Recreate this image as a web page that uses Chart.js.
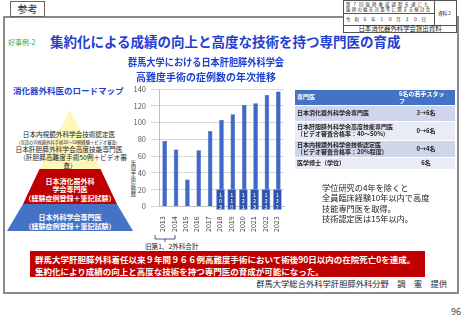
<!DOCTYPE html>
<html>
<head>
<meta charset="utf-8">
<script src="https://cdn.jsdelivr.net/npm/chart.js@4/dist/chart.umd.min.js"></script>
<style>
html, body { margin: 0; padding: 0; background: #fff; }
body { width: 462px; height: 320px; position: relative; overflow: hidden;
       font-family: "Noto Sans CJK JP", "Noto Sans", sans-serif; color: #222; }
.a { position: absolute; white-space: nowrap; line-height: 1; }
.c { text-align: center; transform: translateX(-50%); }
.blue { color: #1f3fd0; font-weight: bold; }
.wt { color: #fff; font-weight: bold; }
#frame { left: 3px; top: 16px; width: 456px; height: 278px; box-sizing: border-box; border: 2px solid #8a8a8a; }
#tab { left: 10px; top: 1px; width: 35px; height: 16px; box-sizing: border-box; border: 1px solid #666;
       background: #fff; font-size: 10px; display: flex; align-items: center; justify-content: center; }
#info { left: 343px; top: 0; width: 114px; height: 33px; box-sizing: border-box; border: 1px solid #555; background: #fff; }
#chartBox { left: 128px; top: 52px; width: 184px; height: 182px; }
table { border-collapse: collapse; font-size: 6px; font-weight: bold; color: #222; }
td { padding: 0 2px; line-height: 6.6px; border-top: 1px solid #fff; vertical-align: middle; }
</style>
</head>
<body>
<div class="a" id="frame"></div>
<div class="a" id="tab">参考</div>

<!-- meeting info box -->
<div class="a" id="info"></div>
<div class="a" style="left:343px;top:25px;width:114px;height:1px;background:#555"></div>
<div class="a" style="left:434px;top:0;width:1px;height:25px;background:#555"></div>
<div class="a" style="left:343px;top:13px;width:91px;height:1px;background:#555"></div>
<div class="a" style="left:346px;top:2px;font-size:4.4px;letter-spacing:2.1px">第７回医師養成過程を通じた</div>
<div class="a" style="left:346px;top:7px;font-size:4.4px;letter-spacing:1.3px">医師の偏在対策等に関する検討会</div>
<div class="a" style="left:346px;top:17px;font-size:4.4px;letter-spacing:4px">令和６年１０月３０日</div>
<div class="a" style="left:438px;top:11px;font-size:4.6px">資料２</div>
<div class="a c" style="left:400px;top:26px;font-size:6.4px">日本消化器外科学会提出資料</div>

<!-- headings -->
<div class="a" style="left:8px;top:39px;font-size:7px;color:#1fae4a">好事例-2</div>
<div class="a blue" style="left:50px;top:35px;font-size:13.5px">集約化による成績の向上と高度な技術を持つ専門医の育成</div>
<div class="a blue" style="left:13px;top:86px;font-size:8.5px">消化器外科医のロードマップ</div>

<!-- roadmap pyramid -->
<svg class="a" style="left:0;top:0" width="462" height="320">
  <polygon points="70,110 39.5,169 100.5,169" fill="#fff8b8"/>
  <polygon points="39.5,169 100.5,169 117,204 23,204" fill="#c00000"/>
  <polygon points="23,204 117,204 133,231 7,231" fill="#4472c4"/>
  <path d="M155 235 V239 H175 V235 M165 239 V242" fill="none" stroke="#1f2f66" stroke-width="0.8"/>
</svg>
<div class="a c" style="left:69px;top:131px;font-size:6.6px">日本内視鏡外科学会技術認定医</div>
<div class="a c" style="left:68px;top:140px;font-size:4.3px">(当該の内視鏡外科手術20～50例経験＋ビデオ審査)</div>
<div class="a c" style="left:69px;top:146px;font-size:6.7px">日本肝胆膵外科学会高度技能専門医</div>
<div class="a c" style="left:73px;top:154px;font-size:6.7px">（肝胆膵高難度手術50例＋ビデオ審</div>
<div class="a c" style="left:70px;top:162px;font-size:6.7px">査）</div>
<div class="a c wt" style="left:70px;top:177.5px;font-size:7px">日本消化器外科</div>
<div class="a c wt" style="left:70px;top:185.5px;font-size:7px">学会専門医</div>
<div class="a c wt" style="left:70px;top:194.5px;font-size:7px">（経験症例登録＋筆記試験）</div>
<div class="a c wt" style="left:70px;top:213.5px;font-size:7px">日本外科学会専門医</div>
<div class="a c wt" style="left:70px;top:222.5px;font-size:7px">（経験症例登録＋筆記試験）</div>

<!-- chart -->
<div class="a" style="left:130px;top:160px;font-size:5.3px;writing-mode:vertical-rl;color:#444">年間手術症例数</div>
<div class="a" id="chartBox"><canvas id="casesChart"></canvas></div>
<div class="a" style="left:145px;top:243px;font-size:6.6px">旧第1、2外科合計</div>

<!-- staff table -->
<table class="a" style="left:295px;top:89px;width:160px">
  <tr style="background:#4472c4;color:#fff;height:16px"><td style="width:98px;border-top:0">専門医</td><td>6名の若手スタッ<br>フ</td></tr>
  <tr style="background:#cfd5ea;height:16px"><td>日本消化器外科学会専門医</td><td style="text-align:center">3→6名</td></tr>
  <tr style="background:#e9ebf5;height:19px"><td>日本肝胆膵外科学会高度技能専門医<br>（ビデオ審査合格率：40～50%)</td><td style="text-align:center">0→6名</td></tr>
  <tr style="background:#cfd5ea;height:17px"><td>日本内視鏡外科学会技術認定医<br>（ビデオ審査合格率：20%程度)</td><td style="text-align:center">0→4名</td></tr>
  <tr style="background:#e9ebf5;height:11px"><td>医学博士（学位）</td><td style="text-align:center">6名</td></tr>
</table>

<div class="a" style="left:322px;top:182px;font-size:8.2px;line-height:10.4px;color:#222">学位研究の4年を除くと<br>全員臨床経験10年以内で高度<br>技能専門医を取得。<br>技術認定医は15年以内。</div>

<!-- summary -->
<div class="a" style="left:30px;top:251px;width:395px;height:26px;background:#c00000"></div>
<div class="a wt" style="left:35px;top:254.5px;font-size:8.5px">群馬大学肝胆膵外科着任以来９年間９６６例高難度手術において術後90日以内の在院死亡0を達成。</div>
<div class="a wt" style="left:35px;top:266.5px;font-size:8.5px">集約化により成績の向上と高度な技術を持つ専門医の育成が可能になった。</div>
<div class="a" style="right:15px;top:279px;font-size:8.3px;color:#222">群馬大学総合外科学肝胆膵外科分野　調　憲　提供</div>
<div class="a" style="left:451px;top:307px;font-size:9px;color:#444">96</div>

<script>
// data
const years = ['2013', '2014', '2015', '2016', '2017', '2018', '2019', '2020', '2021', '2022', '2023'];
const caseCounts = [78, 68, 32, 67, 90, 103, 110, 121, 123, 133, 137];
const labelledYears = ['2018', '2019', '2020', '2021', '2022', '2023'];
const yTicks = [0, 20, 40, 60, 80, 100, 120, 140];
const chartTitle = ['群馬大学における日本肝胆膵外科学会', '高難度手術の症例数の年次推移'];

const FONT = '"Noto Sans CJK JP", "Noto Sans", sans-serif';

// value boxes with stacked digits at the foot of the bars
const barLabels = {
    id: 'barLabels',
    afterDatasetsDraw(chart) {
        const ctx = chart.ctx;
        const zeroY = chart.scales.y.getPixelForValue(0);
        ctx.save();
        chart.getDatasetMeta(0).data.forEach((bar, i) => {
            if (!labelledYears.includes(years[i])) return;
            const x = bar.x - 1;
            ctx.fillStyle = '#2f55ae';
            ctx.fillRect(x - 4, zeroY - 17, 8, 20);
            ctx.strokeStyle = '#9db2e0';
            ctx.lineWidth = 0.5;
            ctx.strokeRect(x - 4, zeroY - 17, 8, 20);
            ctx.fillStyle = '#fff';
            ctx.font = '5.5px ' + FONT;
            ctx.textAlign = 'center';
            ctx.textBaseline = 'middle';
            String(caseCounts[i]).split('').forEach((d, k) => {
                ctx.fillText(d, x, zeroY - 12 + k * 6);
            });
        });
        ctx.restore();
    }
};

new Chart(document.getElementById('casesChart'), {
    type: 'bar',
    data: {
        labels: years,
        datasets: [{
            data: caseCounts,
            backgroundColor: '#3e68c9',
            borderColor: '#2b4c9f',
            borderWidth: 0.5,
            barPercentage: 0.45,
            categoryPercentage: 0.9
        }]
    },
    options: {
        responsive: true,
        maintainAspectRatio: false,
        animation: false,
        layout: { padding: { left: 0, right: 28, top: 0, bottom: 0 } },
        plugins: {
            legend: { display: false },
            tooltip: { enabled: false },
            title: {
                display: true,
                text: chartTitle,
                color: '#1f3fd0',
                font: { size: 10, weight: 'bold', family: FONT, lineHeight: 1.5 },
                padding: { top: 3, bottom: 4 }
            }
        },
        scales: {
            x: {
                grid: { display: false },
                border: { color: '#bfbfbf' },
                ticks: {
                    color: '#404040',
                    font: { size: 7, family: FONT },
                    autoSkip: false,
                    minRotation: 90,
                    maxRotation: 90,
                    padding: 2,
                    labelOffset: -2
                }
            },
            y: {
                min: 0,
                max: yTicks[yTicks.length - 1],
                afterBuildTicks: (scale) => { scale.ticks = yTicks.map(v => ({ value: v })); },
                afterFit: (scale) => { scale.width = 31; },
                grid: { color: '#d9d9d9' },
                border: { color: '#bfbfbf' },
                ticks: {
                    color: '#595959',
                    font: { size: 7.5, family: FONT },
                    padding: 5
                }
            }
        }
    },
    plugins: [barLabels]
});
</script>
</body>
</html>
